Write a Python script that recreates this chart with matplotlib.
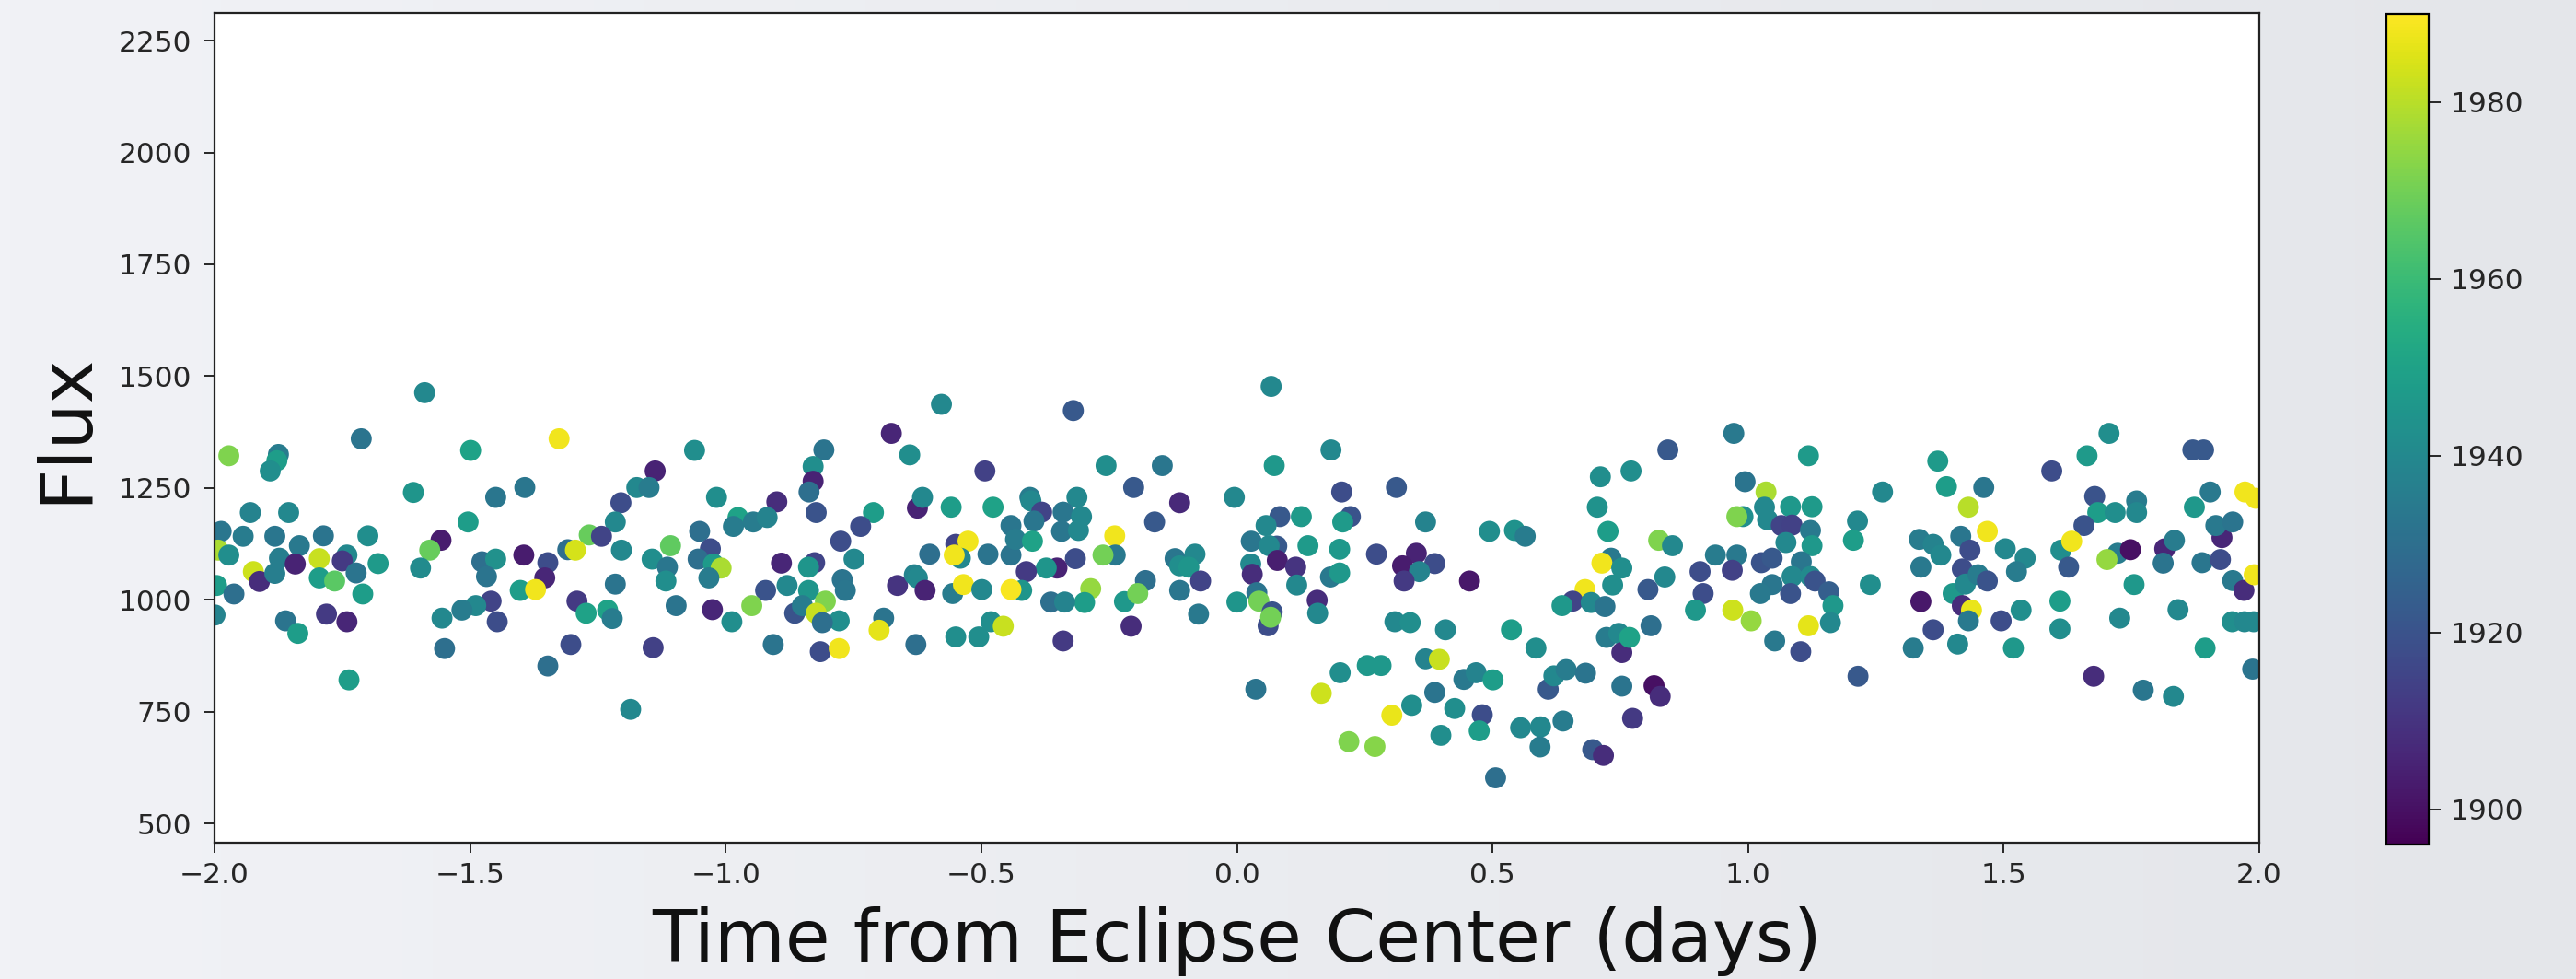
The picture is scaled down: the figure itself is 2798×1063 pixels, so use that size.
import numpy as np
import matplotlib
matplotlib.use("Agg")
import matplotlib.pyplot as plt
from matplotlib.colors import LinearSegmentedColormap

# light curve points: time from eclipse center (days), flux, year of observation
time_days = [
    # -2.0 .. -1.44
    -1.589, -1.713, -1.499, -1.972, -1.875, -1.878, -1.891, -1.611, -1.450, -1.930,
    -1.855, -1.504, -1.987, -1.944, -1.882, -1.787, -1.700, -1.834, -1.557, -1.579,
    -1.993, -1.972, -1.873, -1.795, -1.842, -1.741, -1.750, -1.680, -1.723, -1.924,
    -1.912, -1.882, -1.795, -1.765, -1.597, -1.996, -1.962, -1.710, -1.477, -1.450,
    -1.468, -1.459, -1.447, -1.489, -1.516, -1.555, -1.999, -1.861, -1.837, -1.781,
    -1.741, -1.550, -1.737,
    # -1.44 .. -0.86
    -1.326, -1.061, -1.138, -1.393, -1.174, -1.150, -1.205, -1.018, -0.900, -1.216,
    -0.976, -0.985, -0.946, -0.919, -1.051, -1.267, -1.243, -1.309, -1.294, -1.204,
    -1.395, -1.108, -1.144, -1.114, -1.030, -1.054, -1.024, -1.009, -1.033, -1.117,
    -1.348, -1.354, -1.402, -1.372, -0.891, -0.922, -0.880, -1.216, -1.291, -1.273,
    -1.231, -1.222, -1.097, -1.026, -0.988, -0.949, -0.865, -1.303, -1.142, -0.907,
    -1.348, -1.186,
    # -0.86 .. -0.29
    -0.578, -0.320, -0.676, -0.808, -0.640, -0.829, -0.829, -0.837, -0.493, -0.823,
    -0.625, -0.615, -0.559, -0.477, -0.405, -0.403, -0.382, -0.313, -0.340, -0.304,
    -0.711, -0.736, -0.442, -0.397, -0.343, -0.310, -0.775, -0.550, -0.526, -0.541,
    -0.553, -0.601, -0.487, -0.442, -0.433, -0.400, -0.749, -0.826, -0.838, -0.316,
    -0.352, -0.373, -0.412, -0.772, -0.766, -0.664, -0.631, -0.625, -0.610, -0.556,
    -0.535, -0.499, -0.421, -0.442, -0.286, -0.298, -0.364, -0.337, -0.838, -0.850,
    -0.805, -0.823, -0.778, -0.811, -0.691, -0.700, -0.628, -0.550, -0.505, -0.481,
    -0.457, -0.340, -0.815, -0.778,
    # -0.29 .. 0.29
    0.067, 0.184, -0.256, -0.146, 0.073, -0.202, -0.112, -0.005, 0.205, -0.161,
    0.084, 0.126, 0.222, 0.207, 0.057, -0.239, 0.028, 0.078, 0.063, 0.139,
    0.201, 0.273, -0.238, -0.262, -0.121, -0.082, -0.112, -0.094, 0.027, 0.030,
    0.079, 0.115, 0.117, 0.183, 0.201, -0.179, -0.071, -0.112, -0.220, -0.194,
    0.000, 0.039, 0.043, 0.069, 0.061, 0.066, 0.157, 0.158, -0.075, -0.207,
    0.037, 0.165, 0.202, 0.255, 0.282, 0.219, 0.270,
    # 0.29 .. 0.87
    0.843, 0.711, 0.771, 0.312, 0.705, 0.726, 0.369, 0.494, 0.543, 0.564,
    0.825, 0.852, 0.351, 0.324, 0.387, 0.357, 0.327, 0.455, 0.732, 0.714,
    0.753, 0.735, 0.681, 0.657, 0.636, 0.693, 0.720, 0.837, 0.804, 0.810,
    0.309, 0.339, 0.408, 0.537, 0.585, 0.723, 0.747, 0.753, 0.768, 0.369,
    0.396, 0.444, 0.468, 0.501, 0.387, 0.342, 0.303, 0.426, 0.480, 0.474,
    0.399, 0.609, 0.620, 0.644, 0.682, 0.753, 0.816, 0.828, 0.774, 0.555,
    0.594, 0.638, 0.593, 0.696, 0.717, 0.506,
    # 0.87 .. 1.44
    0.972, 1.118, 1.371, 1.388, 0.994, 1.263, 1.035, 0.990, 0.978, 1.032,
    1.038, 1.083, 1.125, 1.065, 1.086, 1.122, 1.214, 1.206, 1.074, 1.125,
    1.431, 1.416, 1.335, 1.362, 1.377, 1.434, 0.936, 0.978, 0.906, 0.969,
    1.026, 1.047, 1.104, 1.086, 1.122, 1.131, 1.338, 1.419, 0.912, 1.047,
    1.024, 1.083, 1.158, 1.166, 1.161, 1.239, 1.401, 1.425, 1.338, 1.419,
    1.437, 1.431, 0.897, 0.970, 1.006, 1.118, 1.052, 1.103, 1.362, 1.323,
    1.410, 1.215,
    # 1.44 .. 2.0
    1.706, 1.663, 1.594, 1.870, 1.891, 1.461, 1.678, 1.684, 1.718, 1.760,
    1.760, 1.904, 1.873, 1.972, 1.993, 1.468, 1.657, 1.612, 1.633, 1.627,
    1.723, 1.748, 1.702, 1.815, 1.834, 1.812, 1.927, 1.915, 1.948, 1.888,
    1.924, 1.948, 1.970, 1.990, 1.503, 1.542, 1.525, 1.450, 1.468, 1.755,
    1.495, 1.534, 1.610, 1.610, 1.727, 1.841, 1.947, 1.971, 1.989, 1.519,
    1.894, 1.676, 1.773, 1.832, 1.987,
]

flux = [
    1463, 1360, 1334, 1322, 1325, 1311, 1288, 1240, 1229, 1195,
    1195, 1174, 1153, 1142, 1142, 1143, 1143, 1121, 1133, 1111,
    1111, 1100, 1093, 1092, 1080, 1100, 1087, 1081, 1060, 1063,
    1041, 1059, 1049, 1042, 1071, 1032, 1013, 1013, 1085, 1091,
    1052, 997, 951, 987, 977, 959, 966, 953, 925, 968,
    951, 891, 821,
    1360, 1334, 1288, 1251, 1251, 1251, 1217, 1229, 1219, 1174,
    1184, 1164, 1174, 1184, 1153, 1145, 1142, 1112, 1111, 1111,
    1100, 1121, 1091, 1073, 1114, 1091, 1080, 1071, 1049, 1042,
    1083, 1049, 1021, 1023, 1082, 1021, 1032, 1035, 997, 970,
    977, 958, 987, 978, 951, 987, 970, 900, 893, 900,
    852, 755,
    1437, 1423, 1372, 1335, 1324, 1298, 1265, 1241, 1288, 1195,
    1205, 1229, 1207, 1207, 1229, 1221, 1196, 1229, 1196, 1186,
    1195, 1164, 1166, 1176, 1153, 1155, 1131, 1124, 1131, 1093,
    1100, 1102, 1102, 1100, 1135, 1131, 1091, 1083, 1073, 1092,
    1071, 1071, 1063, 1045, 1021, 1032, 1056, 1049, 1021, 1014,
    1034, 1023, 1021, 1023, 1025, 994, 995, 995, 1021, 987,
    997, 970, 953, 949, 959, 932, 900, 917, 917, 951,
    941, 908, 884, 891,
    1477, 1335, 1300, 1300, 1300, 1251, 1217, 1229, 1241, 1174,
    1186, 1186, 1186, 1174, 1166, 1143, 1131, 1120, 1121, 1121,
    1113, 1102, 1100, 1100, 1092, 1102, 1076, 1073, 1080, 1057,
    1088, 1073, 1033, 1051, 1060, 1043, 1042, 1021, 996, 1014,
    995, 1016, 997, 973, 942, 961, 999, 970, 968, 941,
    800, 791, 837, 853, 853, 683, 672,
    1335, 1275, 1288, 1251, 1207, 1153, 1174, 1153, 1155, 1142,
    1133, 1121, 1104, 1076, 1081, 1063, 1042, 1042, 1093, 1082,
    1071, 1033, 1023, 997, 987, 994, 985, 1051, 1023, 942,
    951, 949, 933, 933, 892, 916, 925, 882, 916, 868,
    867, 822, 837, 821, 793, 764, 742, 757, 743, 707,
    697, 800, 830, 844, 836, 807, 808, 784, 735, 714,
    716, 729, 671, 665, 652, 602,
    1372, 1322, 1310, 1253, 1264, 1241, 1241, 1186, 1186, 1207,
    1179, 1208, 1208, 1166, 1167, 1155, 1176, 1133, 1128, 1121,
    1207, 1142, 1135, 1124, 1100, 1111, 1100, 1100, 1063, 1066,
    1083, 1093, 1085, 1052, 1052, 1042, 1073, 1069, 1014, 1034,
    1014, 1014, 1018, 987, 949, 1034, 1014, 1035, 996, 987,
    977, 953, 977, 977, 953, 942, 908, 884, 933, 892,
    901, 829,
    1372, 1322, 1288, 1335, 1335, 1251, 1231, 1195, 1195, 1221,
    1195, 1241, 1207, 1241, 1227, 1153, 1166, 1111, 1131, 1073,
    1104, 1112, 1090, 1114, 1133, 1082, 1139, 1166, 1174, 1083,
    1090, 1043, 1021, 1056, 1114, 1093, 1063, 1056, 1042, 1034,
    953, 977, 997, 935, 959, 978, 951, 951, 951, 892,
    892, 829, 798, 784, 845,
]

year = [
    1940, 1932, 1950, 1972, 1935, 1948, 1942, 1945, 1933, 1938,
    1940, 1948, 1933, 1935, 1933, 1932, 1942, 1934, 1903, 1968,
    1978, 1942, 1936, 1982, 1905, 1940, 1912, 1947, 1932, 1983,
    1908, 1936, 1948, 1966, 1941, 1948, 1930, 1948, 1930, 1943,
    1932, 1915, 1918, 1940, 1935, 1940, 1938, 1932, 1948, 1912,
    1906, 1930, 1948,
    1988, 1942, 1905, 1933, 1940, 1935, 1918, 1942, 1908, 1940,
    1950, 1935, 1935, 1938, 1930, 1968, 1915, 1930, 1984, 1940,
    1903, 1967, 1942, 1933, 1918, 1930, 1947, 1978, 1935, 1942,
    1918, 1906, 1948, 1988, 1906, 1920, 1940, 1932, 1912, 1950,
    1950, 1935, 1932, 1906, 1942, 1972, 1920, 1918, 1914, 1932,
    1930, 1940,
    1940, 1922, 1906, 1932, 1942, 1942, 1905, 1930, 1914, 1920,
    1905, 1940, 1948, 1950, 1935, 1940, 1915, 1940, 1933, 1940,
    1948, 1918, 1933, 1933, 1933, 1940, 1918, 1915, 1988, 1940,
    1988, 1930, 1932, 1932, 1935, 1950, 1940, 1915, 1945, 1918,
    1905, 1945, 1912, 1932, 1933, 1910, 1938, 1940, 1905, 1935,
    1988, 1940, 1945, 1989, 1975, 1948, 1930, 1938, 1945, 1935,
    1972, 1982, 1942, 1930, 1932, 1986, 1930, 1942, 1942, 1942,
    1982, 1912, 1918, 1988,
    1940, 1940, 1942, 1933, 1946, 1922, 1907, 1940, 1918, 1922,
    1922, 1947, 1920, 1947, 1940, 1988, 1933, 1922, 1940, 1947,
    1946, 1918, 1934, 1970, 1933, 1940, 1942, 1945, 1940, 1908,
    1904, 1910, 1940, 1934, 1946, 1930, 1915, 1933, 1946, 1970,
    1945, 1932, 1970, 1920, 1918, 1970, 1908, 1940, 1934, 1908,
    1932, 1983, 1942, 1946, 1946, 1972, 1973,
    1922, 1942, 1942, 1922, 1944, 1948, 1938, 1942, 1944, 1935,
    1972, 1940, 1905, 1903, 1918, 1938, 1912, 1902, 1934, 1988,
    1942, 1942, 1988, 1915, 1946, 1940, 1932, 1940, 1922, 1930,
    1940, 1942, 1940, 1948, 1942, 1935, 1940, 1908, 1950, 1938,
    1982, 1934, 1938, 1948, 1932, 1942, 1987, 1942, 1918, 1948,
    1942, 1922, 1940, 1935, 1932, 1932, 1900, 1908, 1912, 1940,
    1940, 1935, 1935, 1922, 1908, 1930,
    1934, 1947, 1947, 1948, 1932, 1940, 1978, 1942, 1972, 1940,
    1940, 1946, 1947, 1915, 1914, 1934, 1940, 1948, 1940, 1946,
    1980, 1933, 1935, 1938, 1940, 1918, 1935, 1934, 1918, 1914,
    1920, 1922, 1933, 1940, 1941, 1920, 1934, 1918, 1918, 1933,
    1934, 1920, 1924, 1946, 1940, 1942, 1946, 1940, 1902, 1908,
    1987, 1934, 1946, 1983, 1975, 1986, 1934, 1918, 1918, 1935,
    1940, 1922,
    1942, 1947, 1918, 1922, 1922, 1933, 1920, 1948, 1942, 1935,
    1940, 1934, 1946, 1988, 1988, 1988, 1920, 1942, 1988, 1922,
    1935, 1900, 1975, 1906, 1935, 1932, 1906, 1934, 1932, 1933,
    1918, 1934, 1908, 1988, 1940, 1940, 1935, 1935, 1920, 1946,
    1918, 1942, 1948, 1942, 1940, 1940, 1942, 1940, 1940, 1946,
    1948, 1908, 1933, 1940, 1932,
]

year_ticks = [1900, 1920, 1940, 1960, 1980]

W, H = 2798, 1063
fig = plt.figure(figsize=(W / 100, H / 100), dpi=100)

# soft slide-like background
bg = fig.add_axes([0, 0, 1, 1], zorder=-10)
grad = LinearSegmentedColormap.from_list("bg", ["#f1f2f6", "#e4e6ea"])
bg.imshow(np.linspace(0, 1, 256).reshape(1, -1), cmap=grad, aspect="auto",
          extent=[0, 1, 0, 1])
bg.axis("off")

ax = fig.add_axes([233 / W, 148 / H, (2454 - 233) / W, (915 - 14) / H])
ax.set_facecolor("white")
sc = ax.scatter(time_days, flux, c=year, cmap="viridis", vmin=1896, vmax=1990,
                s=270, linewidths=0)

ax.set_xlim(-2, 2)
ax.set_ylim(457, 2312)
ax.set_xticks(np.arange(-2.0, 2.01, 0.5))
ax.set_yticks(np.arange(500, 2251, 250))
ax.tick_params(labelsize=22.5, length=8, width=1.4, pad=10, colors="#262626")
ax.tick_params(axis="x", pad=7)
for sp in ax.spines.values():
    sp.set_linewidth(1.6)
    sp.set_color("#222222")

ax.set_xlabel("Time from Eclipse Center (days)", fontsize=57, labelpad=14, color="#111111")
ax.set_ylabel("Flux", fontsize=57, labelpad=14, color="#111111")

cax = fig.add_axes([2592 / W, 146 / H, 46 / W, (917 - 15) / H])
cb = fig.colorbar(sc, cax=cax, ticks=year_ticks)
cb.ax.tick_params(labelsize=22.5, length=9, width=1.4, pad=8, colors="#262626")
cb.outline.set_linewidth(1.6)

fig.savefig("out.png", dpi=100)
